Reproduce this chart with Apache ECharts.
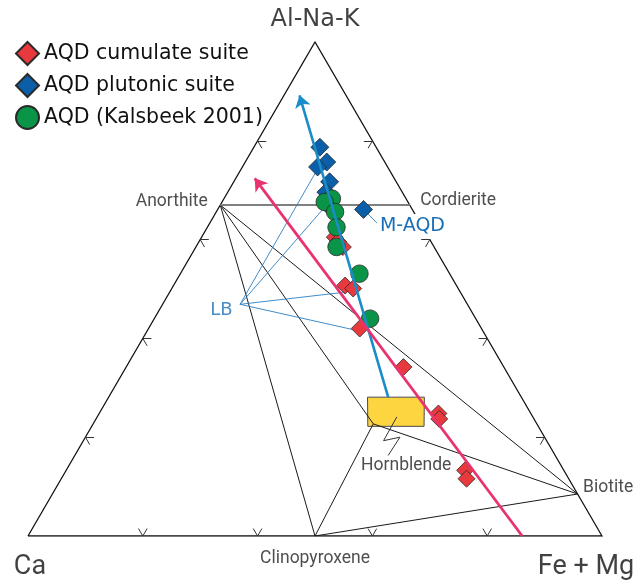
<!DOCTYPE html>
<html><head><meta charset="utf-8">
<script src="https://cdn.jsdelivr.net/npm/echarts@6/dist/echarts.min.js"></script>
<style>html,body{margin:0;padding:0;background:#fff}#c{width:644px;height:586px}</style>
</head><body><div id="c"></div>
<script>
// All compositions are ternary [Al-Na-K, Ca, Fe+Mg] in percent
const cumulate = [[60.5,16.3,23.2],[59.6,16.2,24.2],[58.5,15.9,25.6],[50.7,19.4,29.9],[50.1,18.3,31.6],[42.0,21.2,36.8],[34.2,17.5,48.3],[24.8,16.1,59.1],[23.7,16.5,59.8],[13.3,17.2,69.5],[11.6,17.8,70.6]];
const plutonic = [[78.7,9.8,11.5],[75.7,10.1,14.2],[74.7,12.2,13.1],[71.7,11.6,16.7],[69.6,13.3,17.1],[65.9,13.9,20.2]];
const mAQD = [66.1,8.5,25.4];
const kalsbeek = [[68.3,12.9,18.8],[67.6,14.5,17.9],[65.6,13.7,20.7],[62.5,15.0,22.5],[58.5,17.0,24.5],[53.1,15.7,31.2],[44.0,18.4,37.6]];

const vertices = {AlNaK:[100,0,0], Ca:[0,100,0], FeMg:[0,0,100]};
const minerals = {Anorthite:[67,33,0], Cordierite:[67,0,33], Clinopyroxene:[0,50,50], Biotite:[8.5,0,91.5], Hornblende:[22.7,28.5,48.8]};
const hornblendeField = [[28.1,26.8,45.1],[28.1,16.9,55.0],[22.2,19.9,57.9],[22.2,29.7,48.1]];
const hornblendeLeader = [[24.1,23.7,52.2],[19.3,28.4,52.3],[20.0,25.2,54.8],[16.3,29.1,54.6]];
const LB = [46.9,39.6,13.5];
const lbLinks = [[74.4,12.3,13.3],[66.1,15.6,18.3],[49.3,20.5,30.2],[41.6,21.9,36.5]];
const mAQDLeaderEnd = [63.3,7.5,29.2];
const trendPlutonic = [[28.1,23.2,48.7],[89.2,8.1,2.7]];
const trendCumulate = [[0,13.9,86.1],[72.4,24.3,3.3]];
const tickValues = [20,40,60,80];
const tieLines = [['Anorthite','Clinopyroxene'],['Anorthite','Hornblende'],['Anorthite','Biotite'],['Hornblende','Clinopyroxene'],['Hornblende','Biotite'],['Clinopyroxene','Biotite']];

function xy(t){const s=t[0]+t[1]+t[2];const a=t[0]/s,f=t[2]/s;return [f+a/2,a];}
function seg(a,b){return {coords:[xy(a),xy(b)]};}
const TL = 1.5;
const tickSegs = [];
tickValues.forEach(t=>{
  tickSegs.push(seg([t,100-t,0],[t,100-t-TL,TL]));
  tickSegs.push(seg([t,100-t,0],[t-TL,100-t,TL]));
  tickSegs.push(seg([t,0,100-t],[t,TL,100-t-TL]));
  tickSegs.push(seg([t,0,100-t],[t-TL,TL,100-t]));
  tickSegs.push(seg([0,100-t,t],[TL,100-t-TL,t]));
  tickSegs.push(seg([0,100-t,t],[TL,100-t,t-TL]));
});

const SMALL = {fontFamily:'Roboto', fontSize:17.5, color:'#222'};
const BIG = {fontFamily:'DejaVu Sans', color:'#111'};
const BLUE_TXT = '#1a6fb8';
const mk = (name,t,label)=>({name, value:xy(t), label:Object.assign({show:true, formatter:name}, label)});

const chart = echarts.init(document.getElementById('c'));
chart.setOption({
  animation:false,
  grid:{left:28, right:42, top:42, bottom:50},
  xAxis:{type:'value', min:0, max:1, show:false},
  yAxis:{type:'value', min:0, max:1, show:false},
  legend:{orient:'vertical', left:10, top:36, itemWidth:23, itemHeight:23, itemGap:7, itemTextGap:8,
    data:['AQD cumulate suite','AQD plutonic suite','AQD (Kalsbeek 2001)'],
    textStyle:{fontFamily:'DejaVu Sans', fontSize:20.5, color:'#111', lineHeight:20}},
  series:[
    {type:'custom', coordinateSystem:'cartesian2d', z:1, silent:true, data:[[0,0]],
      renderItem:(p,api)=>({type:'polygon', shape:{points:hornblendeField.map(t=>api.coord(xy(t)))},
        style:{fill:'#fdd540', stroke:'#4a4a4a', lineWidth:1}})},
    {type:'lines', coordinateSystem:'cartesian2d', polyline:true, z:2, silent:true,
      lineStyle:{color:'#111', width:1.3, opacity:1},
      data:[{coords:[vertices.Ca, vertices.FeMg, vertices.AlNaK, vertices.Ca].map(xy)}]},
    {type:'lines', coordinateSystem:'cartesian2d', z:2, silent:true,
      lineStyle:{color:'#333', width:1, opacity:1}, data:tickSegs},
    {type:'lines', coordinateSystem:'cartesian2d', z:2, silent:true,
      lineStyle:{color:'#1a1a1a', width:1, opacity:1},
      data:tieLines.map(p=>seg(minerals[p[0]], minerals[p[1]]))},
    {type:'lines', coordinateSystem:'cartesian2d', z:2, silent:true,
      lineStyle:{color:'#808080', width:1.8, opacity:1},
      data:[seg(minerals.Anorthite, minerals.Cordierite)]},
    {type:'lines', coordinateSystem:'cartesian2d', z:2, silent:true,
      lineStyle:{color:'#2a80c4', width:0.9, opacity:1},
      data:lbLinks.map(t=>seg(LB,t)).concat([seg(mAQD, mAQDLeaderEnd)])},
    {type:'lines', coordinateSystem:'cartesian2d', polyline:true, z:4, silent:true,
      lineStyle:{color:'#333', width:1, opacity:1},
      data:[{coords:hornblendeLeader.map(xy)}]},
    {name:'AQD plutonic suite', type:'scatter', z:3, symbol:'diamond', symbolSize:[18,18],
      itemStyle:{color:'#0b5ea8', borderColor:'#2a2a2a', borderWidth:0.8, opacity:1},
      data:plutonic.map(xy).concat([{value:xy(mAQD), label:{show:true, formatter:'M-AQD', position:'right', distance:4, offset:[0,17],
        fontFamily:'DejaVu Sans', fontSize:19, color:BLUE_TXT, backgroundColor:'#fff', padding:[3,3]}}])},
    {name:'AQD cumulate suite', type:'scatter', z:3, symbol:'diamond', symbolSize:[17,17],
      itemStyle:{color:'#e8393f', borderColor:'#2a2a2a', borderWidth:0.8, opacity:1},
      data:cumulate.map(xy)},
    {name:'AQD (Kalsbeek 2001)', type:'scatter', z:3, symbol:'circle', symbolSize:17.5,
      itemStyle:{color:'#0a9447', borderColor:'#2a2a2a', borderWidth:0.8, opacity:1},
      data:kalsbeek.map(xy)},
    {type:'lines', coordinateSystem:'cartesian2d', z:5, silent:true,
      symbol:['none','arrow'], symbolSize:[9,12],
      lineStyle:{color:'#1a8dc8', width:2.6, opacity:1},
      data:[{coords:trendPlutonic.map(xy)}]},
    {type:'lines', coordinateSystem:'cartesian2d', z:5, silent:true,
      symbol:['none','arrow'], symbolSize:[9,12],
      lineStyle:{color:'#e8336f', width:2.8, opacity:1},
      data:[{coords:trendCumulate.map(xy)}]},
    {type:'scatter', z:6, silent:true, symbolSize:1, itemStyle:{color:'rgba(0,0,0,0)'},
      data:[
        mk('Anorthite', minerals.Anorthite, Object.assign({position:'left', distance:12, offset:[0,-3]}, SMALL)),
        mk('Cordierite', minerals.Cordierite, Object.assign({position:'right', distance:10, offset:[0,-4]}, SMALL)),
        mk('Clinopyroxene', minerals.Clinopyroxene, Object.assign({position:'bottom', distance:13}, SMALL)),
        mk('Biotite', minerals.Biotite, Object.assign({position:'right', distance:5, offset:[0,-6]}, SMALL)),
        mk('Hornblende', hornblendeLeader[3], Object.assign({position:'bottom', distance:1, offset:[18,0]}, SMALL)),
        mk('LB', LB, {position:'left', distance:7, offset:[0,6], fontFamily:'DejaVu Sans', fontSize:18, color:BLUE_TXT}),
        mk('Al-Na-K', vertices.AlNaK, Object.assign({position:'top', distance:10, fontSize:24, lineHeight:24}, BIG)),
        mk('Ca', vertices.Ca, {position:'bottom', distance:18, offset:[2,0], fontFamily:'Roboto', fontSize:27, lineHeight:26, color:'#111'}),
        mk('Fe + Mg', vertices.FeMg, {position:'bottom', distance:18, offset:[-16,0], fontFamily:'Roboto', fontSize:27, lineHeight:26, color:'#111'})
      ]}
  ]
});
</script></body></html>
